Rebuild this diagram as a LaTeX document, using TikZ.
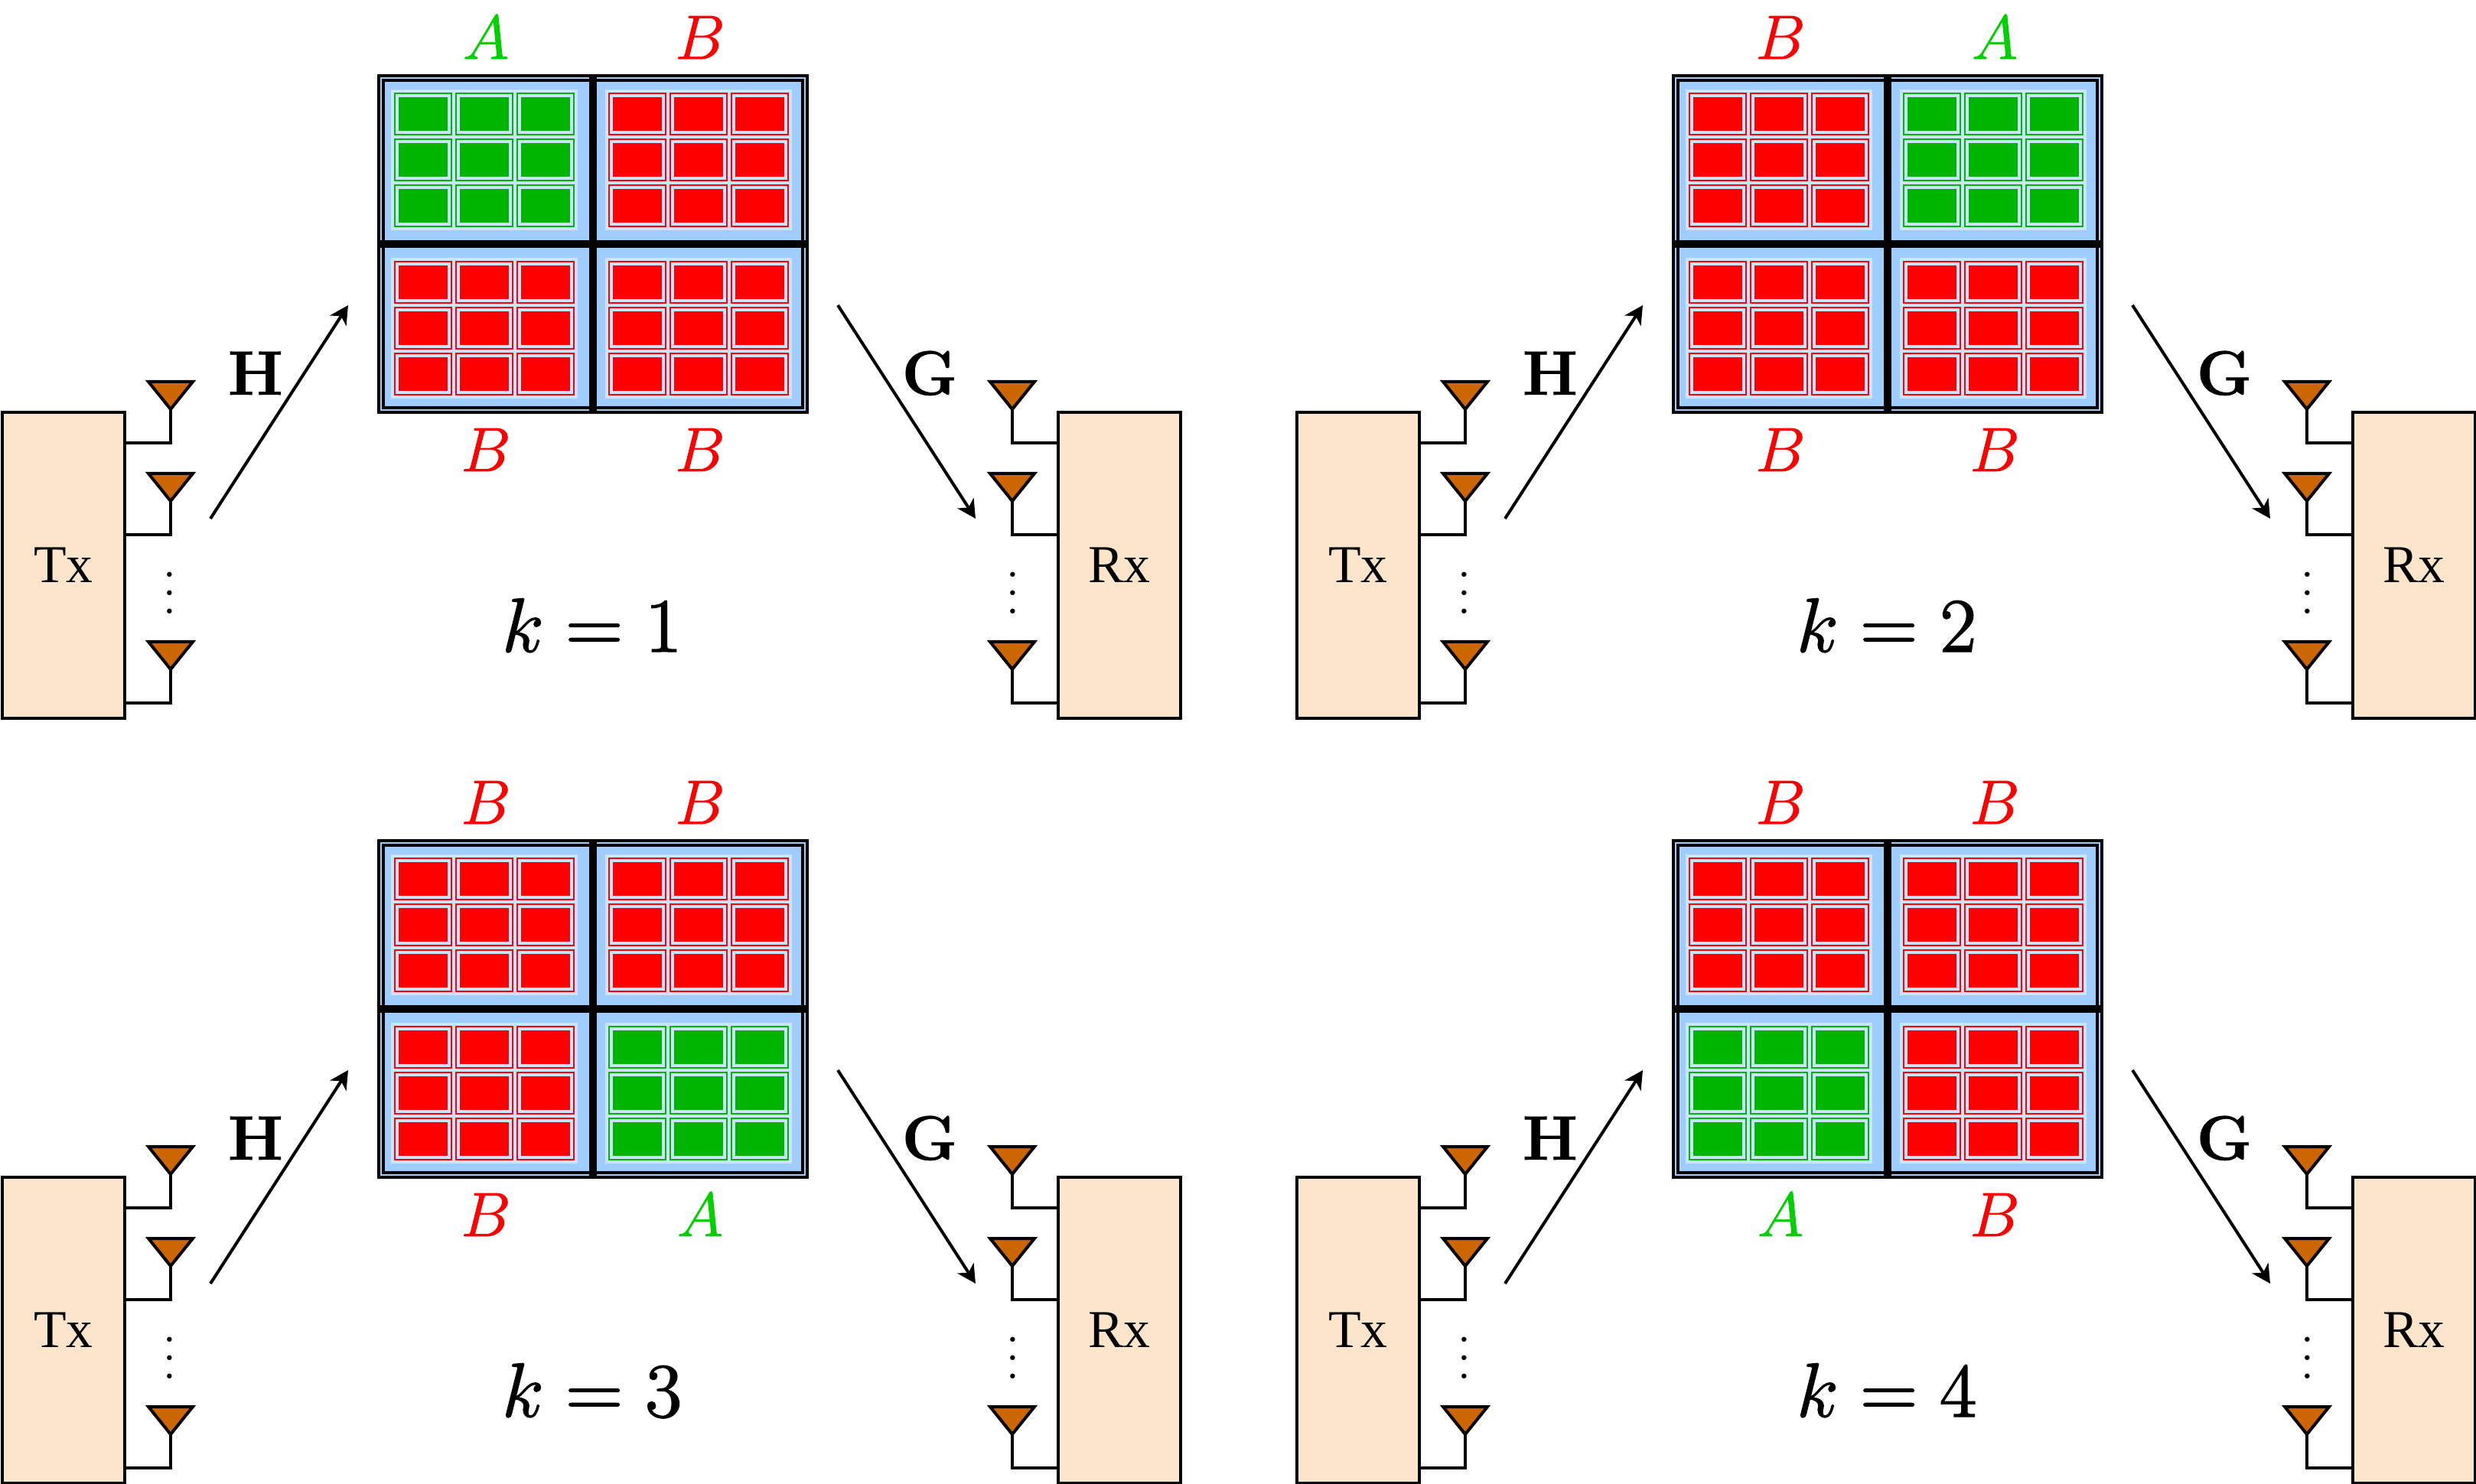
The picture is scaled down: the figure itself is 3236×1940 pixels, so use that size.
\documentclass[tikz,border=0pt]{standalone}
\usepackage[no-math]{fontspec}
\newfontfamily\boxfont{Liberation Serif}
\usetikzlibrary{arrows.meta}
\def\px{0.1464pt}
\newcommand{\heavy}[2]{\special{pdf:code 2 Tr #1 w}#2\special{pdf:code 0 Tr}}
\definecolor{boxfill}{HTML}{FDE5CC}
\definecolor{antfill}{HTML}{CC6600}
\definecolor{panelblue}{HTML}{9FCDFF}
\definecolor{blockblue}{HTML}{CCE5FF}
\definecolor{cellA}{HTML}{00B500}
\definecolor{cellB}{HTML}{FF0000}
\definecolor{labA}{HTML}{00D000}
\definecolor{labB}{HTML}{FF0000}
\tikzset{
  wire/.style={draw=black,line width=4*\px},
  endbox/.style={draw=black,line width=4*\px,fill=boxfill,inner sep=0pt,outer sep=0pt,
    minimum width=160*\px,minimum height=400*\px,font=\fontsize{10.2}{12}\selectfont\boxfont},
  antenna/.style={draw=black,line width=4*\px,fill=antfill,miter limit=10},
  frame/.style={draw=black,line width=4*\px,fill=panelblue},
  divider/.style={draw=black,line width=10*\px},
  link/.style={draw=black,line width=4*\px,-{Stealth[length=24*\px,width=25*\px,inset=7*\px]}},
  seclabel/.style={anchor=base,inner sep=0pt,font=\large},
  chlabel/.style={anchor=base,inner sep=0pt,font=\large},
  klabel/.style={anchor=base,inner sep=0pt,font=\Large},
  dotslabel/.style={inner sep=0pt}
}
% one block of nine cells: x, y of the top left corner, type A or B
\newcommand{\cellblock}[3]{
  \fill[blockblue] (#1,#2) rectangle ++(244,184);
  \foreach \cc in {0,1,2}{
    \foreach \rr in {0,1,2}{
      \draw[cell#3,line width=2*\px] (#1+5+80*\cc,#2+5+60*\rr) rectangle ++(74,54);
      \fill[cell#3] (#1+10+80*\cc,#2+10+60*\rr) rectangle ++(64,44);
    }
  }
}
% one sub-picture: x shift, y shift, k, TL, TR, BL, BR
\newcommand{\subpic}[7]{
\begin{scope}[shift={(#1,#2)}]
  % surface
  \path[frame] (495,99) rectangle (1055,539);
  \path[frame] (501,105) rectangle (1049,533);
  \cellblock{511}{117}{#4}
  \cellblock{791}{117}{#5}
  \cellblock{511}{337}{#6}
  \cellblock{791}{337}{#7}
  \draw[divider] (775,97) -- (775,541);
  \draw[divider] (493,319) -- (1057,319);
  % labels of the surface
  \node[seclabel,text=lab#4] (la#3) at (635,77) {\heavy{0.12}{$#4$}};
  \node[seclabel,text=lab#5] (lb#3) at (915,77) {\heavy{0.12}{$#5$}};
  \node[seclabel,text=lab#6] (lc#3) at (635,616) {\heavy{0.12}{$#6$}};
  \node[seclabel,text=lab#7] (ld#3) at (915,616) {\heavy{0.12}{$#7$}};
  \node[klabel] (k#3) at (774,852) {\scalebox{1.02}{\heavy{0.2}{$k=#3$}}};
  % transmitter and receiver
  \node[endbox] (tx#3) at (83,739) {Tx};
  \node[endbox] (rx#3) at (1463,739) {Rx};
  \foreach \tp/\nm in {499/a,619/b,839/c}{
    \coordinate (tt\nm#3) at (223,\tp+36);
    \coordinate (tf\nm#3) at (223,\tp+80);
    \coordinate (rt\nm#3) at (1323,\tp+36);
    \coordinate (rf\nm#3) at (1323,\tp+80);
    \draw[wire] (tt\nm#3) |- (tx#3.east |- tf\nm#3);
    \draw[wire] (rt\nm#3) |- (rx#3.west |- rf\nm#3);
    \path[antenna] (194,\tp) -- (252,\tp) -- (tt\nm#3) -- cycle;
    \path[antenna] (1294,\tp) -- (1352,\tp) -- (rt\nm#3) -- cycle;
  }
  \node[dotslabel] (td#3) at (222,757) {\scalebox{0.88}{$\vdots$}};
  \node[dotslabel] (rd#3) at (1323.7,757) {\scalebox{0.88}{$\vdots$}};
  % channels
  \coordinate (hs#3) at (275,678);
  \coordinate (he#3) at (455,399);
  \coordinate (gs#3) at (1095,399);
  \coordinate (ge#3) at (1275,678);
  \draw[link] (hs#3) -- (he#3);
  \draw[link] (gs#3) -- (ge#3);
  \node[chlabel] (hl#3) at (334,516) {\heavy{0.1}{$\mathbf{H}$}};
  \node[chlabel] (gl#3) at (1215,516) {\heavy{0.1}{$\mathbf{G}$}};
\end{scope}
}
\begin{document}
\begin{tikzpicture}[x=0.1464pt,y=-0.1464pt]
  \useasboundingbox (0,0) rectangle (3236,1940);
  \subpic{0}{0}{1}{A}{B}{B}{B}
  \subpic{1692}{0}{2}{B}{A}{B}{B}
  \subpic{0}{1000}{3}{B}{B}{B}{A}
  \subpic{1692}{1000}{4}{B}{B}{A}{B}
\end{tikzpicture}
\end{document}
